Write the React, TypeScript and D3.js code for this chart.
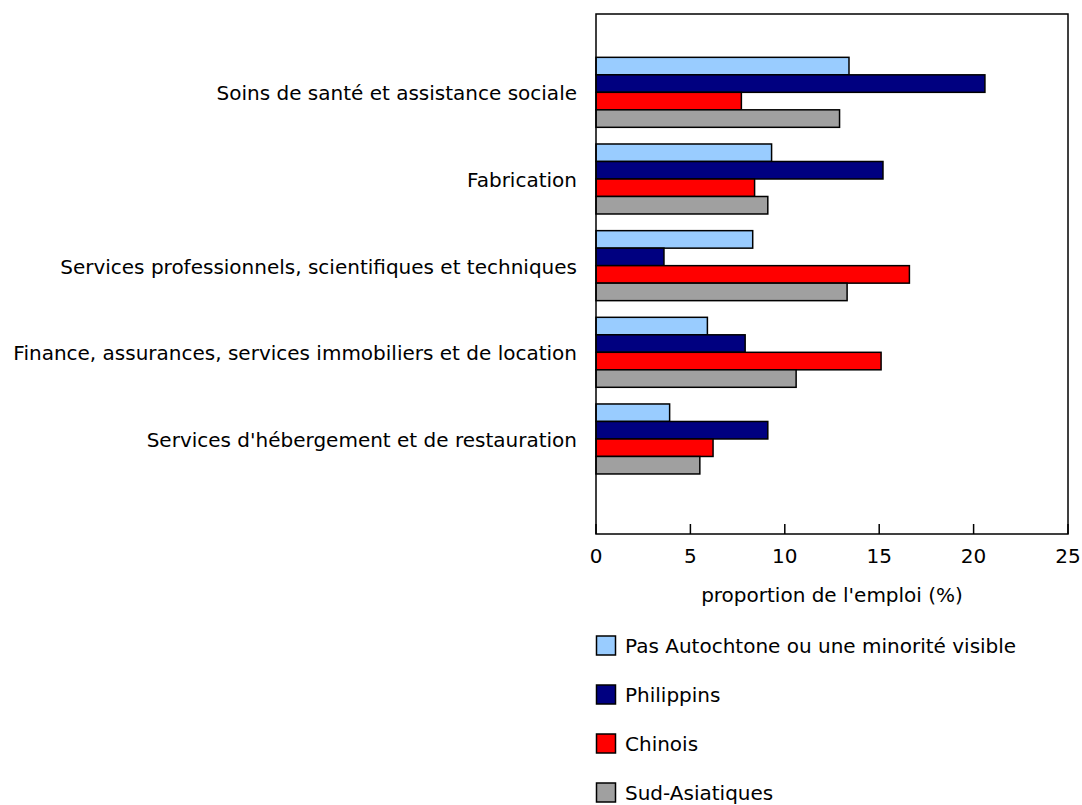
import React from "react";
import * as d3 from "d3";

const categories = [
  "Soins de santé et assistance sociale",
  "Fabrication",
  "Services professionnels, scientifiques et techniques",
  "Finance, assurances, services immobiliers et de location",
  "Services d'hébergement et de restauration",
];

const seriesNames = [
  "Pas Autochtone ou une minorité visible",
  "Philippins",
  "Chinois",
  "Sud-Asiatiques",
];

const seriesColors = ["#99CCFF", "#000080", "#FF0000", "#A0A0A0"];

const pasAutochtone = [13.4, 9.3, 8.3, 5.9, 3.9];
const philippins = [20.6, 15.2, 3.6, 7.9, 9.1];
const chinois = [7.7, 8.4, 16.6, 15.1, 6.2];
const sudAsiatiques = [12.9, 9.1, 13.3, 10.6, 5.5];

const seriesValues = [pasAutochtone, philippins, chinois, sudAsiatiques];

const xTicks = [0, 5, 10, 15, 20, 25];
const xTitle = "proportion de l'emploi (%)";

const W = 1082;
const H = 805;
const FONT = "'DejaVu Sans', Verdana, sans-serif";
const FS = 20;

export default function App() {
  const left = 596;
  const right = 1068;
  const top = 14;
  const bottom = 534;

  const x = d3.scaleLinear().domain([0, 25]).range([left, right]);
  const pIn = 16.67 / 86.67;
  const y = d3
    .scaleBand<string>()
    .domain(categories)
    .range([49, 482.3])
    .paddingInner(pIn)
    .paddingOuter(pIn / 2);
  const ys = d3
    .scaleBand<string>()
    .domain(seriesNames)
    .range([0, y.bandwidth()]);

  const legendY0 = 645.5;
  const legendStep = 49;

  return (
    <svg
      width={W}
      height={H}
      style={{ position: "absolute", left: 0, top: 0, background: "#fff" }}
      fontFamily={FONT}
    >
      <rect x={0} y={0} width={W} height={H} fill="#fff" />
      {/* bars */}
      {categories.map((c, ci) => (
        <g key={c}>
          {seriesNames.map((s, si) => (
            <rect
              key={s}
              x={x(0)}
              y={(y(c) as number) + (ys(s) as number)}
              width={x(seriesValues[si][ci]) - x(0)}
              height={ys.bandwidth()}
              fill={seriesColors[si]}
              stroke="#000"
              strokeWidth={1.5}
            />
          ))}
        </g>
      ))}
      {/* frame */}
      <rect
        x={left}
        y={top}
        width={right - left}
        height={bottom - top}
        fill="none"
        stroke="#000"
        strokeWidth={1.5}
      />
      {/* x ticks */}
      {xTicks.map((t) => (
        <g key={t}>
          <line x1={x(t)} x2={x(t)} y1={bottom} y2={bottom - 10} stroke="#000" strokeWidth={1.5} />
          <text x={x(t)} y={563} textAnchor="middle" fontSize={FS} fill="#000">
            {t}
          </text>
        </g>
      ))}
      <text x={(left + right) / 2} y={602} textAnchor="middle" fontSize={FS} fill="#000">
        {xTitle}
      </text>
      {/* category labels */}
      {categories.map((c) => (
        <text
          key={c}
          x={577}
          y={(y(c) as number) + y.bandwidth() / 2 + 8}
          textAnchor="end"
          fontSize={FS}
          fill="#000"
        >
          {c}
        </text>
      ))}
      {/* legend */}
      {seriesNames.map((s, si) => (
        <g key={s} transform={`translate(0, ${legendY0 + si * legendStep})`}>
          <rect x={596.5} y={-9.5} width={19} height={19} fill={seriesColors[si]} stroke="#000" strokeWidth={1.5} />
          <text x={625} y={7} fontSize={FS} fill="#000">
            {s}
          </text>
        </g>
      ))}
    </svg>
  );
}
